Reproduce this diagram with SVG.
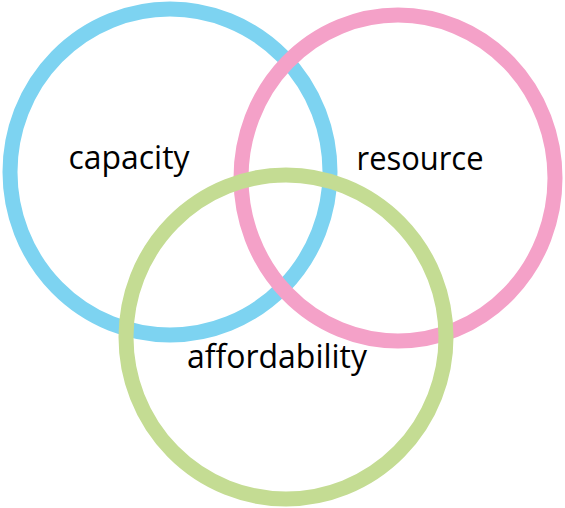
<svg xmlns="http://www.w3.org/2000/svg" width="565" height="508" viewBox="0 0 565 508">
<style>
.ring{fill:none;stroke-width:15}
.lbl{font-family:"Open Sans","Liberation Sans",sans-serif;font-size:32px;fill:#000;text-anchor:middle}
</style>
<rect width="565" height="508" fill="#fff"/>
<g id="capacity">
<ellipse class="ring" cx="170" cy="172" rx="160" ry="163" stroke="#7DD3F1"/>
<text class="lbl" x="129" y="169" textLength="121" lengthAdjust="spacingAndGlyphs">capacity</text>
</g>
<g id="resource">
<ellipse class="ring" cx="398" cy="178" rx="157" ry="163" stroke="#F4A1C8"/>
<text class="lbl" x="420" y="170" textLength="127" lengthAdjust="spacingAndGlyphs">resource</text>
</g>
<g id="affordability">
<ellipse class="ring" cx="286" cy="337" rx="160" ry="162" stroke="#C4DC93"/>
<text class="lbl" x="277" y="368" textLength="180" lengthAdjust="spacingAndGlyphs">affordability</text>
</g>
<g id="connectors"/>
</svg>
